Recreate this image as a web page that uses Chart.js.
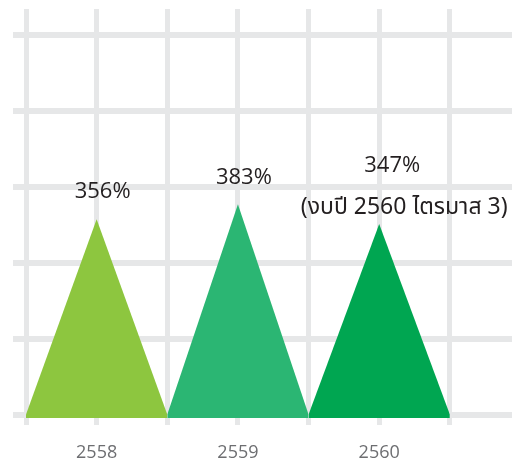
<!DOCTYPE html>
<html><head><meta charset="utf-8">
<script src="https://cdn.jsdelivr.net/npm/chart.js@4/dist/chart.umd.min.js"></script>
<style>html,body{margin:0;padding:0;background:#fff;overflow:hidden}</style>
</head><body>
<canvas id="c" width="512" height="468"></canvas>
<script>
const years = ['2558', '2559', '2560'];
const values = [356, 383, 347];
const notes = ['', '', '(งบปี 2560 ไตรมาส 3)'];
const colors = ['#8dc63f', '#2bb673', '#00a651'];
const gridRows = [0, 1, 2, 3, 4, 5];

const datasets = values.map((v, i) => ({
  data: [{x: i - 0.5, y: 0}, {x: i, y: v}, {x: i + 0.5, y: 0}],
  backgroundColor: colors[i],
  borderColor: colors[i],
  borderWidth: 0,
  pointRadius: 0,
  fill: 'start',
  tension: 0,
  xAxisID: 'x',
  yAxisID: 'y'
}));

const xTickValues = [];
years.forEach((_, i) => { xTickValues.push(i - 0.5, i); });
xTickValues.push(years.length - 0.5);

const labelPlugin = {
  id: 'triLabels',
  afterDatasetsDraw(chart) {
    const {ctx, scales} = chart;
    const x = scales.x, y = scales.y;
    ctx.save();
    ctx.textAlign = 'center';
    ctx.textBaseline = 'middle';
    ctx.fillStyle = '#231f20';
    values.forEach((v, i) => {
      const px = x.getPixelForValue(i), py = y.getPixelForValue(v);
      ctx.font = '22px "Open Sans"';
      if (notes[i]) {
        ctx.fillText(v + '%', px + 13, py - 58);
        ctx.font = '23px "Noto Sans Thai", "Open Sans", sans-serif';
        ctx.fillText(notes[i], px + 25, py - 15);
      } else {
        ctx.fillText(v + '%', px + 6, py - 27);
      }
    });
    ctx.restore();
  }
};

new Chart(document.getElementById('c'), {
  type: 'line',
  data: { datasets },
  plugins: [labelPlugin],
  options: {
    responsive: false,
    animation: false,
    layout: { padding: { top: 9, left: 0, right: 0, bottom: 0 } },
    plugins: { legend: { display: false }, tooltip: { enabled: false } },
    scales: {
      x: {
        type: 'linear',
        min: -0.5,
        max: 2.94,
        afterBuildTicks: s => { s.ticks = xTickValues.map(v => ({ value: v })); },
        afterFit: s => { s.height = 50; },
        border: { display: false },
        grid: { color: '#e6e7e8', lineWidth: 5, tickLength: 7, drawTicks: true },
        ticks: {
          autoSkip: false, maxRotation: 0, padding: 17,
          color: '#6d6e71',
          font: { family: 'Open Sans', size: 18 },
          callback: v => Number.isInteger(v) ? years[v] : ''
        }
      },
      y: {
        type: 'linear',
        display: false,
        min: -6.4,
        max: 739
      },
      g: {
        type: 'linear',
        position: 'left',
        min: -0.046,
        max: 5.336,
        afterBuildTicks: s => { s.ticks = gridRows.map(v => ({ value: v })); },
        afterFit: s => { s.width = 26; },
        border: { display: false },
        grid: { color: '#e6e7e8', lineWidth: 6, tickLength: 13, drawTicks: true },
        ticks: { display: false }
      }
    }
  }
});
</script>
</body></html>
